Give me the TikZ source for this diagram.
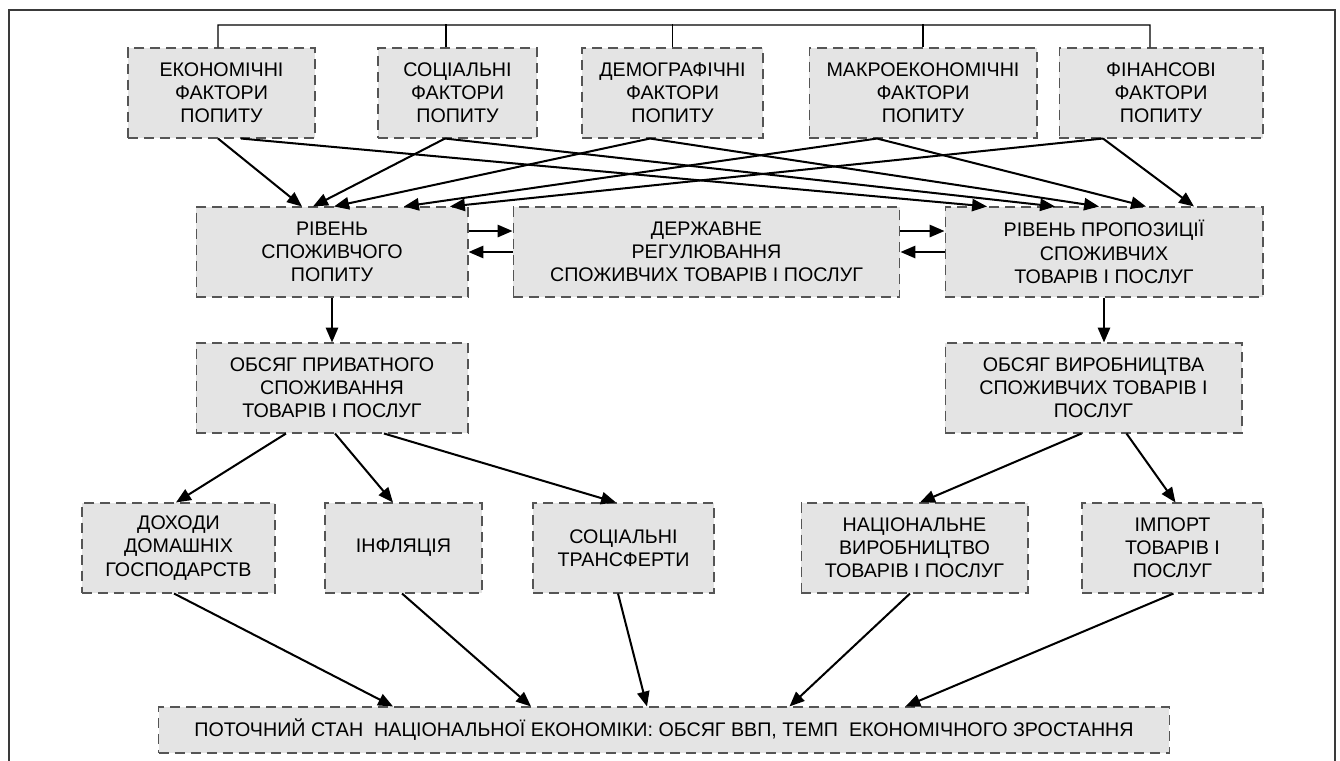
\documentclass[tikz,border=0pt]{standalone}
\usepackage{fontspec}
\setmainfont{Liberation Sans}
\usepackage{tikz}
\usetikzlibrary{arrows.meta}

\definecolor{boxfill}{HTML}{E4E4E4}
\definecolor{boxdash}{HTML}{555555}
\definecolor{framegray}{HTML}{3A3A3A}

\begin{document}
\begin{tikzpicture}[
  x=0.02cm, y=-0.02cm,
  node type/.style={draw=boxdash, line width=0.6pt, dash pattern=on 5.7pt off 3.4pt, fill=boxfill, inner sep=0pt, minimum height=1.8cm, align=center, font=\fontsize{11.2}{13.2}\selectfont},
  arr/.style={-{Triangle[length=8.5pt, width=7pt]}, line width=1.15pt},
  bus/.style={line width=0.7pt},
  outer frame/.style={line width=1.1pt, framegray},
]
\useasboundingbox (0,0) rectangle (1340,761);

% рамка
\draw[outer frame] (9,761) -- (9,10) -- (1335,10) -- (1335,761);

% вузли
\node[node type, minimum width=3.74cm] (eco) at (221.5,93) {ЕКОНОМІЧНІ\\ФАКТОРИ\\ПОПИТУ};
\node[node type, minimum width=3.18cm] (soc) at (457.5,93) {СОЦІАЛЬНІ\\ФАКТОРИ\\ПОПИТУ};
\node[node type, minimum width=3.62cm] (demo) at (672.5,93) {ДЕМОГРАФІЧНІ\\ФАКТОРИ\\ПОПИТУ};
\node[node type, minimum width=4.56cm] (macro) at (923,93) {МАКРОЕКОНОМІЧНІ\\ФАКТОРИ\\ПОПИТУ};
\node[node type, minimum width=4.08cm] (fin) at (1161,93) {ФІНАНСОВІ\\ФАКТОРИ\\ПОПИТУ};

\node[node type, minimum width=5.44cm] (demand) at (332,252) {РІВЕНЬ\\СПОЖИВЧОГО\\ПОПИТУ};
\node[node type, minimum width=7.74cm] (gov) at (706.5,252) {ДЕРЖАВНЕ\\РЕГУЛЮВАННЯ\\СПОЖИВЧИХ ТОВАРІВ І ПОСЛУГ};
\node[node type, minimum width=6.36cm] (supply) at (1104,252) {РІВЕНЬ ПРОПОЗИЦІЇ\\СПОЖИВЧИХ\\ТОВАРІВ І ПОСЛУГ};

\node[node type, minimum width=5.44cm] (private) at (332,388) {ОБСЯГ ПРИВАТНОГО\\СПОЖИВАННЯ\\ТОВАРІВ І ПОСЛУГ};
\node[node type, minimum width=5.94cm] (output) at (1093.5,388) {ОБСЯГ ВИРОБНИЦТВА\\СПОЖИВЧИХ ТОВАРІВ І\\ПОСЛУГ};

\node[node type, minimum width=3.86cm] (income) at (178.5,548) {ДОХОДИ\\ДОМАШНІХ\\ГОСПОДАРСТВ};
\node[node type, minimum width=3.14cm] (inflation) at (403.5,548) {ІНФЛЯЦІЯ};
\node[node type, minimum width=3.62cm] (transfers) at (623.5,548) {СОЦІАЛЬНІ\\ТРАНСФЕРТИ};
\node[node type, minimum width=4.54cm] (national) at (914.5,548) {НАЦІОНАЛЬНЕ\\ВИРОБНИЦТВО\\ТОВАРІВ І ПОСЛУГ};
\node[node type, minimum width=3.62cm] (import) at (1172.5,548) {ІМПОРТ\\ТОВАРІВ І\\ПОСЛУГ};

\node[node type, minimum width=20.22cm, minimum height=0.92cm] (gdp) at (664,730) {ПОТОЧНИЙ СТАН\ \ НАЦІОНАЛЬНОЇ ЕКОНОМІКИ: ОБСЯГ ВВП, ТЕМП\ \ ЕКОНОМІЧНОГО ЗРОСТАННЯ};

% шина над факторами
\coordinate (busL) at (218,25);
\coordinate (busR) at (1150,25);
\draw[bus] ([xshift=-0.07cm]eco.north) -- (busL) -- (busR) -- ([xshift=-0.22cm]fin.north);
\draw[bus] ([xshift=-0.23cm]soc.north) -- ++(0,-23);
\draw[bus] (demo.north) -- ++(0,-23);
\draw[bus] (macro.north) -- ++(0,-23);

% фактори -> попит
\draw[arr] ([xshift=-0.07cm]eco.south) -- ([xshift=-0.6cm]demand.north);
\draw[arr] ([xshift=-0.25cm]soc.south) -- ([xshift=-0.38cm]demand.north);
\draw[arr] ([xshift=-0.45cm]demo.south) -- ([xshift=0.04cm]demand.north);
\draw[arr] ([xshift=-0.92cm]macro.south) -- ([xshift=1.44cm]demand.north);
\draw[arr] ([xshift=-1.16cm]fin.south) -- ([xshift=2.36cm]demand.north);

% фактори -> пропозиція
\draw[arr] ([xshift=0.39cm]eco.south) -- ([xshift=-2.34cm]supply.north);
\draw[arr] ([xshift=-0.25cm]soc.south) -- ([xshift=-0.98cm]supply.north);
\draw[arr] ([xshift=-0.45cm]demo.south) -- ([xshift=-0.1cm]supply.north);
\draw[arr] ([xshift=-0.92cm]macro.south) -- ([xshift=0.84cm]supply.north);
\draw[arr] ([xshift=-1.16cm]fin.south) -- ([xshift=1.8cm]supply.north);

% регулювання
\draw[arr] ([yshift=0.42cm]demand.east) -- ([yshift=0.42cm]gov.west);
\draw[arr] (gov.west) -- (demand.east);
\draw[arr] ([yshift=0.42cm]gov.east) -- ([yshift=0.42cm]supply.west);
\draw[arr] (supply.west) -- (gov.east);

% вниз
\draw[arr] (demand) -- (private);
\draw[arr] (supply.south) -- (supply.south |- output.north);

\draw[arr] ([xshift=-0.92cm]private.south) -- ([xshift=-0.05cm]income.north);
\draw[arr] ([xshift=0.06cm]private.south) -- ([xshift=-0.21cm]inflation.north);
\draw[arr] ([xshift=1.04cm]private.south) -- ([xshift=-0.15cm]transfers.north);
\draw[arr] ([xshift=-0.24cm]output.south) -- ([xshift=0.11cm]national.north);
\draw[arr] ([xshift=0.66cm]output.south) -- ([xshift=0.06cm]import.north);

% до ВВП
\draw[arr] ([xshift=-0.09cm]income.south) -- ([xshift=-5.42cm]gdp.north);
\draw[arr] ([xshift=-0.03cm]inflation.south) -- ([xshift=-2.66cm]gdp.north);
\draw[arr] ([xshift=-0.11cm]transfers.south) -- ([xshift=-0.34cm]gdp.north);
\draw[arr] ([xshift=-0.09cm]national.south) -- ([xshift=2.51cm]gdp.north);
\draw[arr] ([xshift=0.02cm]import.south) -- ([xshift=4.83cm]gdp.north);

\end{tikzpicture}
\end{document}
